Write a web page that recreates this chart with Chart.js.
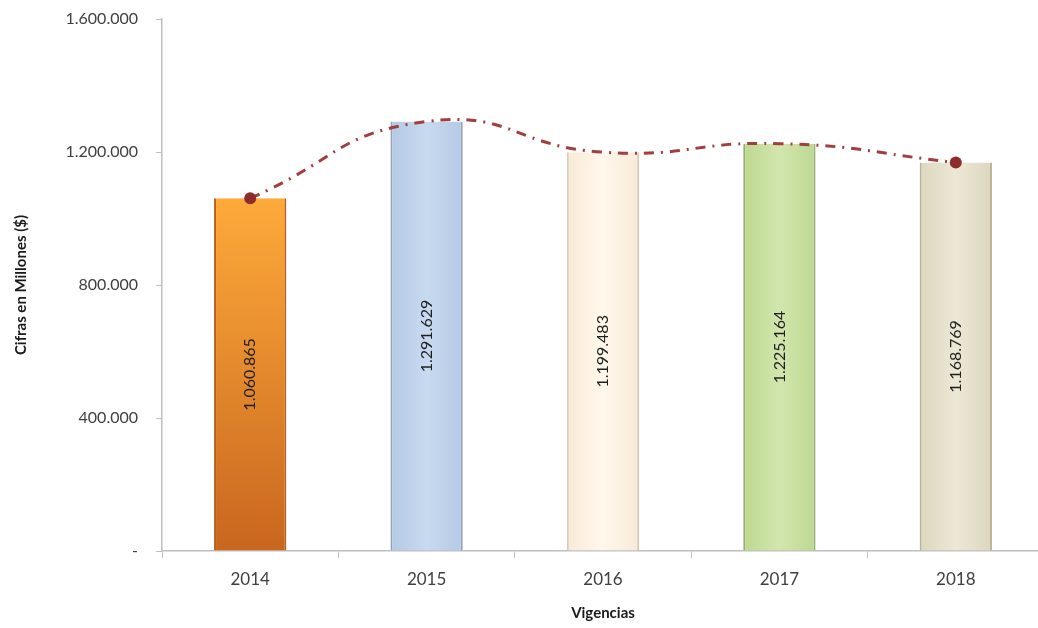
<!DOCTYPE html>
<html>
<head>
<meta charset="utf-8">
<script src="https://cdn.jsdelivr.net/npm/chart.js@4.4.0/dist/chart.umd.min.js"></script>
<style>
  html, body { margin: 0; padding: 0; background: #fff; overflow: hidden; }
  canvas { display: block; }
</style>
</head>
<body>
<canvas id="vigChart" width="1050" height="628"></canvas>
<script>
var years = ['2014', '2015', '2016', '2017', '2018'];
var valores = [1060865, 1291629, 1199483, 1225164, 1168769];
var yTicks = [0, 400000, 800000, 1200000, 1600000];

// colores de cada barra: [claro, oscuro, borde]
var barColors = [
  ['#fdaa3a', '#c9661f', '#b8601c'],
  ['#c8daf0', '#b4c9e4', '#8fa3bb'],
  ['#fff8ec', '#f8ead6', '#d9ccb8'],
  ['#d2e6ae', '#bcd890', '#98ad72'],
  ['#ece8d6', '#ddd7bd', '#b9b39a']
];

function fmt(v) {
  if (v === 0) return '-';
  return v.toString().replace(/\B(?=(\d{3})+(?!\d))/g, '.');
}

var barLabels = {
  id: 'barLabels',
  afterDatasetsDraw: function (chart) {
    var ctx = chart.ctx;
    var meta = chart.getDatasetMeta(1);
    ctx.save();
    ctx.font = '16px Lato, "Open Sans", sans-serif';
    ctx.fillStyle = '#1f1f1f';
    ctx.textAlign = 'center';
    ctx.textBaseline = 'middle';
    meta.data.forEach(function (bar, i) {
      ctx.save();
      ctx.translate(bar.x, (bar.y + bar.base) / 2);
      ctx.rotate(-Math.PI / 2);
      ctx.fillText(fmt(valores[i]), 0, 0);
      ctx.restore();
    });
    ctx.restore();
  }
};

function barFill(c) {
  var chart = c.chart;
  var area = chart.chartArea;
  var col = barColors[c.dataIndex] || barColors[0];
  if (!area || !chart.scales.x) return col[0];
  var g;
  if (c.dataIndex === 0) {
    g = chart.ctx.createLinearGradient(0, area.top + 180, 0, area.bottom);
    g.addColorStop(0, col[0]);
    g.addColorStop(1, col[1]);
    return g;
  }
  var xs = chart.scales.x;
  var cx = xs.getPixelForValue(c.dataIndex);
  var w = (area.right - area.left) / years.length * 0.41;
  if (!isFinite(cx) || !isFinite(w)) return col[0];
  g = chart.ctx.createLinearGradient(cx - w / 2, 0, cx + w / 2, 0);
  g.addColorStop(0, col[1]);
  g.addColorStop(0.5, col[0]);
  g.addColorStop(1, col[1]);
  return g;
}

var ctx = document.getElementById('vigChart');
var myChart = new Chart(ctx, {
  data: {
    labels: years,
    datasets: [{
      type: 'line',
      label: 'Tendencia',
      data: valores,
      borderColor: '#a13e3e',
      borderWidth: 3,
      borderDash: [10, 7, 2, 7],
      tension: 0.5,
      fill: false,
      pointRadius: [6, 0, 0, 0, 6],
      pointBackgroundColor: '#8e2c2c',
      pointBorderWidth: 0,
      order: 0
    }, {
      type: 'bar',
      label: 'Vigencias',
      data: valores,
      backgroundColor: barFill,
      borderColor: barColors.map(function (c) { return c[2]; }),
      borderWidth: { left: 2, right: 2, top: 0, bottom: 0 },
      barPercentage: 0.41,
      categoryPercentage: 1.0,
      order: 1
    }]
  },
  options: {
    responsive: false,
    animation: false,
    layout: { padding: { top: 19, right: 5, left: 8, bottom: 0 } },
    plugins: {
      legend: { display: false },
      tooltip: { enabled: false }
    },
    scales: {
      x: {
        offset: true,
        grid: { display: true, drawOnChartArea: false, drawTicks: true, tickLength: 7, color: '#bfbfbf', offset: true },
        border: { color: '#bfbfbf', width: 1.5 },
        ticks: { color: '#404040', font: { family: 'Lato, "Open Sans", sans-serif', size: 17 }, padding: 11 },
        title: { display: true, text: 'Vigencias', color: '#1a1a1a', font: { family: 'Lato, "Open Sans", sans-serif', size: 15, weight: 'bold' }, padding: { top: 4, bottom: 6 } },
        afterFit: function (scale) { scale.height = 77; scale.paddingLeft = 0; scale.paddingRight = 0; }
      },
      y: {
        min: 0,
        max: 1600000,
        afterBuildTicks: function (scale) {
          scale.ticks = yTicks.map(function (v) { return { value: v }; });
        },
        grid: { display: true, drawOnChartArea: false, drawTicks: true, tickLength: 6, color: '#bfbfbf' },
        border: { color: '#bfbfbf', width: 1.5 },
        ticks: {
          color: '#404040',
          font: { family: 'Lato, "Open Sans", sans-serif', size: 16 },
          padding: 18,
          callback: function (v) { return fmt(v); }
        },
        title: { display: true, text: 'Cifras en Millones ($)', color: '#1a1a1a', font: { family: 'Lato, "Open Sans", sans-serif', size: 15, weight: 'bold' }, padding: { bottom: 8 } },
        afterFit: function (scale) { scale.width = 154; scale.paddingTop = 0; scale.paddingBottom = 0; }
      }
    }
  },
  plugins: [barLabels]
});
</script>
</body>
</html>
